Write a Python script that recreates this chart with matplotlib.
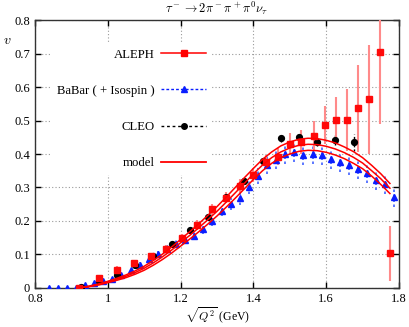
import matplotlib
matplotlib.use("Agg")
import matplotlib.pyplot as plt
from matplotlib.lines import Line2D
import numpy as np

# ALEPH
aleph_x = [0.92, 0.975, 1.025, 1.073, 1.12, 1.161, 1.204, 1.245, 1.285, 1.325, 1.363, 1.4,
           1.435, 1.467, 1.5, 1.532, 1.566, 1.597, 1.628, 1.658, 1.687, 1.718, 1.747, 1.775]
aleph_y = [0.001, 0.03, 0.055, 0.075, 0.096, 0.117, 0.148, 0.188, 0.235, 0.27, 0.304, 0.337,
           0.377, 0.392, 0.43, 0.436, 0.453, 0.487, 0.501, 0.501, 0.537, 0.563, 0.705, 0.104]
aleph_err = [0.005, 0.008, 0.01, 0.008, 0.008, 0.01, 0.012, 0.015, 0.017, 0.017, 0.02, 0.02,
             0.02, 0.025, 0.033, 0.036, 0.045, 0.057, 0.07, 0.093, 0.13, 0.163, 0.215, 0.082]

# BaBar (+ Isospin)
babar_x = [0.8375, 0.8625, 0.8875, 0.9125, 0.9375, 0.9625, 0.9875, 1.0125, 1.0375, 1.0625,
           1.0875, 1.1125, 1.1375, 1.1625, 1.1875, 1.2125, 1.2375, 1.2625, 1.2875, 1.3125,
           1.3375, 1.3625, 1.3875, 1.4125, 1.4375, 1.4625, 1.4875, 1.5125, 1.5375, 1.5625,
           1.5875, 1.6125, 1.6375, 1.6625, 1.6875, 1.7125, 1.7375, 1.7625, 1.7875]
babar_y = [0.0, 0.0, 0.0, 0.001, 0.008, 0.015, 0.021, 0.028, 0.04, 0.053,
           0.07, 0.086, 0.1, 0.117, 0.13, 0.143, 0.155, 0.175, 0.201, 0.23,
           0.25, 0.268, 0.302, 0.334, 0.367, 0.382, 0.399, 0.406, 0.396, 0.399,
           0.396, 0.385, 0.377, 0.367, 0.354, 0.342, 0.322, 0.31, 0.271]
babar_err = [0.002, 0.002, 0.002, 0.003, 0.004, 0.005, 0.006, 0.006, 0.007, 0.008,
             0.009, 0.01, 0.01, 0.011, 0.012, 0.012, 0.013, 0.014, 0.015, 0.016,
             0.018, 0.02, 0.022, 0.024, 0.026, 0.028, 0.03, 0.03, 0.03, 0.03,
             0.03, 0.03, 0.03, 0.03, 0.03, 0.03, 0.03, 0.03, 0.03]

# CLEO
cleo_x = [0.925, 0.975, 1.025, 1.075, 1.125, 1.175, 1.225, 1.275, 1.325, 1.375, 1.425,
          1.475, 1.525, 1.575, 1.625, 1.675]
cleo_y = [0.004, 0.021, 0.039, 0.069, 0.096, 0.13, 0.173, 0.213, 0.271, 0.319, 0.378,
          0.447, 0.452, 0.435, 0.441, 0.435]
cleo_err = [0.003, 0.003, 0.004, 0.004, 0.005, 0.005, 0.006, 0.006, 0.007, 0.008, 0.009,
            0.01, 0.012, 0.012, 0.015, 0.025]

# model (central + band)
model_x = [0.925, 0.95, 0.975, 1.0, 1.025, 1.05, 1.075, 1.1, 1.125, 1.15, 1.175, 1.2,
           1.225, 1.25, 1.275, 1.3, 1.325, 1.35, 1.375, 1.4, 1.425, 1.45, 1.475, 1.5,
           1.525, 1.55, 1.575, 1.6, 1.625, 1.65, 1.675, 1.7, 1.725, 1.75, 1.775]
model_mid = [0.001, 0.005, 0.011, 0.018, 0.026, 0.035, 0.046, 0.059, 0.075, 0.093, 0.113, 0.135,
             0.157, 0.18, 0.204, 0.229, 0.256, 0.284, 0.312, 0.341, 0.367, 0.389, 0.406, 0.418,
             0.426, 0.429, 0.428, 0.423, 0.415, 0.404, 0.39, 0.373, 0.35, 0.326, 0.298]
model_up = [0.001, 0.006, 0.012, 0.02, 0.029, 0.039, 0.051, 0.065, 0.082, 0.101, 0.122, 0.145,
            0.168, 0.192, 0.217, 0.243, 0.271, 0.3, 0.329, 0.357, 0.384, 0.406, 0.424, 0.436,
            0.444, 0.447, 0.446, 0.441, 0.433, 0.421, 0.407, 0.389, 0.366, 0.341, 0.312]
model_lo = [0.0, 0.004, 0.009, 0.016, 0.023, 0.031, 0.041, 0.053, 0.068, 0.085, 0.104, 0.125,
            0.146, 0.168, 0.191, 0.215, 0.241, 0.268, 0.296, 0.324, 0.35, 0.372, 0.389, 0.4,
            0.408, 0.411, 0.41, 0.405, 0.397, 0.386, 0.372, 0.356, 0.334, 0.309, 0.282]

x_ticks = [0.8, 1.0, 1.2, 1.4, 1.6, 1.8]
x_tick_labels = ["0.8", "1", "1.2", "1.4", "1.6", "1.8"]
y_ticks = [0.0, 0.1, 0.2, 0.3, 0.4, 0.5, 0.6, 0.7, 0.8]
y_tick_labels = ["0", "0.1", "0.2", "0.3", "0.4", "0.5", "0.6", "0.7", "0.8"]

plt.rcParams["font.family"] = ["Liberation Serif", "DejaVu Serif"]
plt.rcParams["mathtext.fontset"] = "cm"

fig = plt.figure(figsize=(4.09, 3.27), dpi=100)
ax = fig.add_axes([0.0856, 0.1193, 0.89, 0.8195])

# BaBar: dotted error bars + triangles
ax.vlines(babar_x, np.array(babar_y) - np.array(babar_err), np.array(babar_y) + np.array(babar_err),
          colors="#4060ff", linestyles=(0, (1.5, 1.5)), linewidth=1.2, zorder=3)
ax.plot(babar_x, babar_y, "^", color="#0a1eff", markersize=4, linestyle="none", zorder=4)

# CLEO
ax.vlines(cleo_x, np.array(cleo_y) - np.array(cleo_err), np.array(cleo_y) + np.array(cleo_err),
          colors="black", linestyles=(0, (1.5, 1.5)), linewidth=1.0, zorder=3)
ax.plot(cleo_x, cleo_y, "o", color="black", markersize=4.2, linestyle="none", zorder=4)

# ALEPH
ax.vlines(aleph_x, np.array(aleph_y) - np.array(aleph_err), np.array(aleph_y) + np.array(aleph_err),
          colors="#ff8a8a", linewidth=1.5, zorder=3)
ax.plot(aleph_x, aleph_y, "s", color="#ff0a0a", markersize=4, linestyle="none", zorder=5)

# model band
for ys in (model_up, model_mid, model_lo):
    ax.plot(model_x, ys, color="#ff0000", linewidth=1.1, zorder=6)

ax.set_xlim(0.8, 1.8)
ax.set_ylim(0.0, 0.8)
ax.set_xticks(x_ticks)
ax.set_xticklabels(x_tick_labels)
ax.set_yticks(y_ticks)
ax.set_yticklabels(y_tick_labels)
ax.tick_params(direction="in", top=True, right=True, length=4, width=1, labelsize=9, pad=3.5)
ax.grid(True, color="#999999", linestyle=(0, (1, 2)), linewidth=0.8)
ax.set_axisbelow(True)
for sp in ax.spines.values():
    sp.set_linewidth(1.0)
    sp.set_color("#333333")

ax.set_title(r"$\tau^- \rightarrow 2\pi^-\pi^+\pi^0\nu_\tau$", fontsize=9, pad=5)
fig.text(0.532, 0.004, r"$\sqrt{Q^2}$ (GeV)", fontsize=8.5, ha="center", va="bottom")
ax.set_ylabel(r"$v$", fontsize=10, rotation=0)
ax.yaxis.set_label_coords(-0.075, 0.9)

handles = [
    Line2D([], [], color="#ff0000", marker="s", markersize=4, linewidth=1.1),
    Line2D([], [], color="#0a1eff", marker="^", markersize=4, linewidth=1.0, linestyle=(0, (2, 1.5))),
    Line2D([], [], color="black", marker="o", markersize=4, linewidth=1.0, linestyle=(0, (2, 2))),
    Line2D([], [], color="#ff0000", linewidth=1.3),
]
labels = ["ALEPH", "BaBar ( + Isospin )", "CLEO", "model"]
leg = ax.legend(handles, labels, loc="upper right", bbox_to_anchor=(0.486, 0.915),
                markerfirst=False, fontsize=9.2, handlelength=3.5, handletextpad=0.5,
                labelspacing=1.9, borderpad=0.45, borderaxespad=0.0, frameon=True,
                fancybox=False)
leg.get_frame().set_facecolor("white")
leg.get_frame().set_edgecolor("none")
leg.get_frame().set_alpha(1.0)
leg.set_zorder(10)

plt.savefig("out.png", dpi=100)
plt.close(fig)
